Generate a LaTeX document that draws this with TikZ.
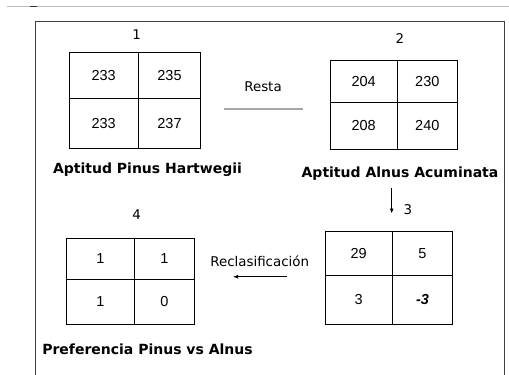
\documentclass[tikz,border=0pt]{standalone}
\usepackage{fontspec}
\setmainfont{DejaVu Sans}
\newfontfamily\numfont{Liberation Sans}
\usetikzlibrary{arrows.meta}
\begin{document}
\begin{tikzpicture}[x=1pt,y=-1pt,
  cell/.style={draw=black,line width=0.9pt,inner sep=0pt,outer sep=0pt,anchor=north west,
    font=\numfont\fontsize{14.5}{15}\selectfont},
  lbl/.style={inner sep=0pt,font=\fontsize{13.4}{15}\selectfont},
  title/.style={inner sep=0pt,font=\bfseries\fontsize{14}{16}\selectfont},
  conn/.style={line width=0.9pt,-{Latex[length=5pt,width=4pt]}}]
\useasboundingbox (0,0) rectangle (509,375);
\fill[white] (0,0) rectangle (509,375);
% top rule
\draw[gray!55,line width=0.9pt] (7,6) -- (509,6);
\draw[black!80,line width=1.2pt] (30,6.5) -- (37,6.5);
% frame
\draw[black!75,line width=0.9pt] (35.7,376) -- (35.7,21.7) -- (504,21.7) -- (504,376);
% grid 1
\node[cell,minimum width=69.3pt,minimum height=45.6pt] (a11) at (69,52.7) {233};
\node[cell,minimum width=62.4pt,minimum height=45.6pt] (a12) at (138.3,52.7) {235};
\node[cell,minimum width=69.3pt,minimum height=50pt] (a21) at (69,98.3) {233};
\node[cell,minimum width=62.4pt,minimum height=50pt] (a22) at (138.3,98.3) {237};
\node[lbl] (n1) at (136.7,35) {1};
\node[title] (t1) at (147.5,170) {Aptitud Pinus Hartwegii};
% grid 2
\node[cell,minimum width=67.3pt,minimum height=42.3pt] (b11) at (330,60) {204};
\node[cell,minimum width=60pt,minimum height=42.3pt] (b12) at (397.3,60) {230};
\node[cell,minimum width=67.3pt,minimum height=46.7pt] (b21) at (330,102.3) {208};
\node[cell,minimum width=60pt,minimum height=46.7pt] (b22) at (397.3,102.3) {240};
\node[lbl] (n2) at (400,39) {2};
\node[title] (t2) at (400,174) {Aptitud Alnus Acuminata};
% grid 3
\node[cell,minimum width=67.3pt,minimum height=44pt] (c11) at (325,231.7) {29};
\node[cell,minimum width=60.4pt,minimum height=44pt] (c12) at (392.3,231.7) {5};
\node[cell,minimum width=67.3pt,minimum height=48.3pt] (c21) at (325,275.7) {3};
\node[cell,minimum width=60.4pt,minimum height=48.3pt] (c22) at (392.3,275.7) {\bfseries\itshape -3};
\node[lbl] (n3) at (408,210) {3};
% grid 4
\node[cell,minimum width=67.6pt,minimum height=41pt] (d11) at (66.7,238.3) {1};
\node[cell,minimum width=60.4pt,minimum height=41pt] (d12) at (134.3,238.3) {1};
\node[cell,minimum width=67.6pt,minimum height=45pt] (d21) at (66.7,279.3) {1};
\node[cell,minimum width=60.4pt,minimum height=45pt] (d22) at (134.3,279.3) {0};
\node[lbl] (n4) at (136.7,215) {4};
\node[title] (t4) at (147.5,349.3) {Preferencia Pinus vs Alnus};
% connectors
\node[lbl] (resta) at (263,86.7) {Resta};
\coordinate (r1) at (224.3,109);
\coordinate (r2) at (303.3,109);
\draw[gray!70,line width=1.3pt] (r1) -- (r2);
\coordinate (s1) at (391.7,188);
\coordinate (s2) at (391.7,213.5);
\draw[conn] (s1) -- (s2);
\node[lbl] (recl) at (259.7,261.7) {Reclasificación};
\coordinate (q1) at (287.3,276.7);
\coordinate (q2) at (233,276.7);
\draw[conn] (q1) -- (q2);
\end{tikzpicture}
\end{document}
